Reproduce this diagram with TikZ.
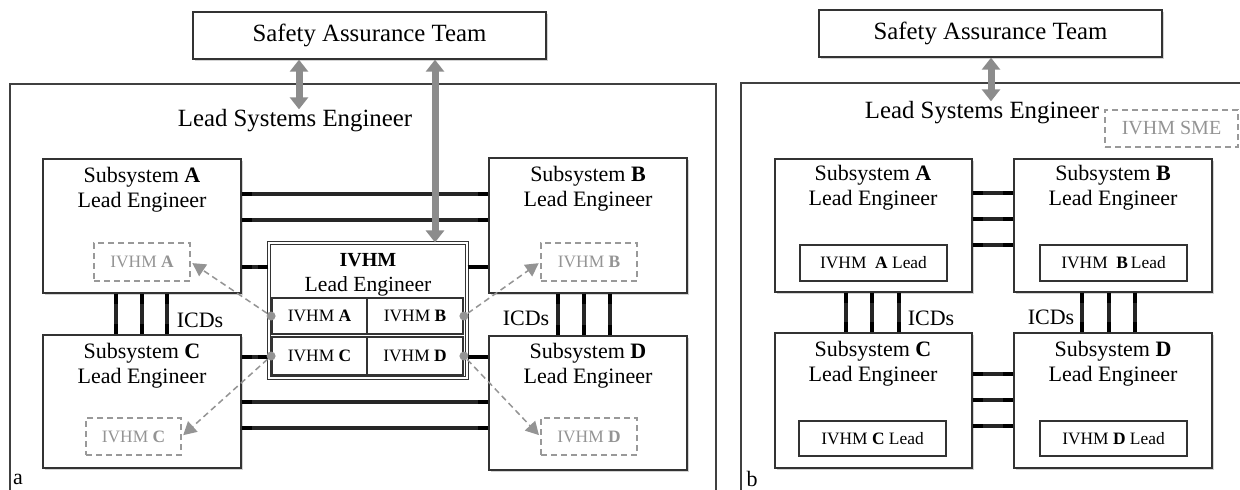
\documentclass[tikz,border=0pt]{standalone}
\usepackage{fontspec}
\setmainfont{Liberation Serif}
\usetikzlibrary{arrows.meta,fit,calc,shadows}
\newcommand{\fbig}{\fontsize{12.4}{14}\selectfont}
\newcommand{\fsub}{\fontsize{11}{12.6}\selectfont}
\newcommand{\fsm}{\fontsize{8.7}{10}\selectfont}
\newcommand{\fsme}{\fontsize{10}{11}\selectfont}
\newcommand{\mkbox}[8]{%
  \path (#2,#3) coordinate (#1-nw) (#4,#5) coordinate (#1-se);
  \node[fit=(#1-nw)(#1-se), inner sep=0pt, #6] (#1) {};
  \node[txt, #7] (#1-t) at (#1.center) {#8};}
\newcommand{\icdl}[2]{%
  \path (#1) coordinate (tmpa) (#2) coordinate (tmpb);
  \draw[icd] (tmpa) -- (tmpb);
  \draw[icdcap] (tmpa) -- ($(tmpa)!5pt!(tmpb)$);
  \draw[icdcap] (tmpb) -- ($(tmpb)!5pt!(tmpa)$);}
\tikzset{
  bx/.style={draw=black!80, line width=0.7pt, fill=white},
  shbox/.style={bx, drop shadow={shadow xshift=1pt, shadow yshift=-1pt, opacity=0.35, fill=black!50}},
  dbox/.style={draw=black!40, dash pattern=on 3pt off 2pt, line width=0.7pt, fill=white},
  gtext/.style={text=black!42},
  framebox/.style={draw=black!75, line width=0.6pt},
  txt/.style={inner sep=0pt, align=center},
  icd/.style={line width=1.7pt, black!85},
  icdcap/.style={line width=2.4pt, black},
  garrow/.style={draw=black!45, line width=3.5pt, {Triangle[width=9pt,length=6pt]}-{Triangle[width=9pt,length=6pt]}},
  darrow/.style={draw=black!42, dash pattern=on 3pt off 2pt, line width=0.75pt, -{Triangle[width=7pt,length=6.5pt]}, shorten >=1pt},
  gdot/.style={circle, fill=black!42, inner sep=0pt, minimum size=4.5pt},
}
\begin{document}
\begin{tikzpicture}[x=0.5pt,y=-0.5pt]
\useasboundingbox (0,0) rectangle (1240,489);
% ================= panel a =================
\path (10,84) coordinate (fa-nw) (716,520) coordinate (fa-se);
\node[fit=(fa-nw)(fa-se), inner sep=0pt, framebox] (fa) {};
\coordinate (ab1) at (0,194);
\coordinate (ab2) at (0,220);
\coordinate (h1) at (0,267);
\coordinate (h2) at (0,357);
\coordinate (cd1) at (0,402);
\coordinate (cd2) at (0,428);
\coordinate (v1) at (116,0);
\coordinate (v2) at (142,0);
\coordinate (v3) at (167,0);
\coordinate (v4) at (558,0);
\coordinate (v5) at (584,0);
\coordinate (v6) at (610,0);
\coordinate (g1) at (299,0);
\coordinate (g2) at (435,0);

\mkbox{SATa}{193}{12}{546}{59}{shbox}{font=\fbig}{Safety Assurance Team}
\node[txt, font=\fbig] (LSEa) at (295,121) {Lead Systems Engineer};

\path (43,159) coordinate (A-nw) (241,293) coordinate (A-se);
\node[fit=(A-nw)(A-se), inner sep=0pt, shbox] (A) {};
\path (489,158) coordinate (B-nw) (687,293) coordinate (B-se);
\node[fit=(B-nw)(B-se), inner sep=0pt, shbox] (B) {};
\path (43,335) coordinate (C-nw) (241,468) coordinate (C-se);
\node[fit=(C-nw)(C-se), inner sep=0pt, shbox] (C) {};
\path (489,336) coordinate (D-nw) (687,470) coordinate (D-se);
\node[fit=(D-nw)(D-se), inner sep=0pt, shbox] (D) {};
\node[txt, font=\fsub] (At) at (142,190) {Subsystem \textbf{A}\\Lead Engineer};
\node[txt, font=\fsub] (Bt) at (588,189) {Subsystem \textbf{B}\\Lead Engineer};
\node[txt, font=\fsub] (Ct) at (142,366) {Subsystem \textbf{C}\\Lead Engineer};
\node[txt, font=\fsub] (Dt) at (588,366) {Subsystem \textbf{D}\\Lead Engineer};

\path (269,243) coordinate (IV-nw) (467,378) coordinate (IV-se);
\node[fit=(IV-nw)(IV-se), inner sep=0pt, bx, double=white, double distance=0.9pt, line width=0.55pt, drop shadow={shadow xshift=1pt, shadow yshift=-1pt, opacity=0.35, fill=black!50}] (IV) {};
\node[txt, font=\fontsize{10}{11}\selectfont\bfseries] (IVt) at (368,260) {IVHM};
\node[txt, font=\fontsize{10.8}{12}\selectfont] (IVl) at (368,286) {Lead Engineer};
\mkbox{cA}{272}{298}{367}{334}{bx, line width=0.9pt}{font=\fsm}{IVHM \textbf{A}}
\mkbox{cB}{367}{298}{463}{334}{bx, line width=0.9pt}{font=\fsm}{IVHM \textbf{B}}
\mkbox{cC}{272}{337}{367}{375}{bx, line width=0.9pt}{font=\fsm}{IVHM \textbf{C}}
\mkbox{cD}{367}{337}{463}{375}{bx, line width=0.9pt}{font=\fsm}{IVHM \textbf{D}}

\mkbox{dA}{94}{243}{190}{281}{dbox}{font=\fsm, gtext}{IVHM \textbf{A}}
\mkbox{dB}{541}{243}{637}{281}{dbox}{font=\fsm, gtext}{IVHM \textbf{B}}
\mkbox{dC}{86}{418}{181}{455}{dbox}{font=\fsm, gtext}{IVHM \textbf{C}}
\mkbox{dD}{541}{418}{637}{455}{dbox}{font=\fsm, gtext}{IVHM \textbf{D}}

\icdl{A.east |- ab1}{B.west |- ab1}
\icdl{A.east |- ab2}{B.west |- ab2}
\icdl{A.east |- h1}{IV.west |- h1}
\icdl{IV.east |- h1}{B.west |- h1}
\icdl{C.east |- h2}{IV.west |- h2}
\icdl{IV.east |- h2}{D.west |- h2}
\icdl{C.east |- cd1}{D.west |- cd1}
\icdl{C.east |- cd2}{D.west |- cd2}
\icdl{A.south -| v1}{C.north -| v1}
\icdl{A.south -| v2}{C.north -| v2}
\icdl{A.south -| v3}{C.north -| v3}
\icdl{B.south -| v4}{D.north -| v4}
\icdl{B.south -| v5}{D.north -| v5}
\icdl{B.south -| v6}{D.north -| v6}
\node[txt, font=\fsub] (icdAC) at (200,320) {ICDs};
\node[txt, font=\fsub] (icdBD) at (526,318) {ICDs};

\node[gdot] (pA) at (cA.west) {};
\node[gdot] (pB) at (cB.east) {};
\node[gdot] (pC) at (cC.west) {};
\node[gdot] (pD) at (cD.east) {};
\draw[darrow] (pA) -- (dA.east);
\draw[darrow] (pB) -- (dB.west);
\draw[darrow] (pC) -- (dC.east);
\draw[darrow] (pD) -- (dD.west);

\draw[garrow] (SATa.south -| g1) -- (LSEa.north -| g1);
\draw[garrow] (SATa.south -| g2) -- (IV.north -| g2);
\node[txt, font=\fsub] (la) at (18,479) {a};

% ================= panel b =================
\path (741,83) coordinate (fb-nw) (1262,520) coordinate (fb-se);
\node[fit=(fb-nw)(fb-se), inner sep=0pt, framebox] (fb) {};
\coordinate (bab1) at (0,193);
\coordinate (bab2) at (0,219);
\coordinate (bab3) at (0,245);
\coordinate (bcd1) at (0,374);
\coordinate (bcd2) at (0,400);
\coordinate (bcd3) at (0,426);
\coordinate (bv1) at (846,0);
\coordinate (bv2) at (872,0);
\coordinate (bv3) at (899,0);
\coordinate (bv4) at (1082,0);
\coordinate (bv5) at (1109,0);
\coordinate (bv6) at (1135,0);
\coordinate (g3) at (991,0);

\mkbox{SATb}{819}{10}{1162}{57}{shbox}{font=\fbig}{Safety Assurance Team}
\node[txt, font=\fbig] (LSEb) at (982,113) {Lead Systems Engineer};
\mkbox{SME}{1105}{110}{1238}{147}{dbox}{font=\fsme, gtext}{IVHM SME}

\path (775,159) coordinate (Ab-nw) (972,292) coordinate (Ab-se);
\node[fit=(Ab-nw)(Ab-se), inner sep=0pt, shbox] (Ab) {};
\path (1014,159) coordinate (Bb-nw) (1212,292) coordinate (Bb-se);
\node[fit=(Bb-nw)(Bb-se), inner sep=0pt, shbox] (Bb) {};
\path (775,333) coordinate (Cb-nw) (972,468) coordinate (Cb-se);
\node[fit=(Cb-nw)(Cb-se), inner sep=0pt, shbox] (Cb) {};
\path (1014,333) coordinate (Db-nw) (1212,468) coordinate (Db-se);
\node[fit=(Db-nw)(Db-se), inner sep=0pt, shbox] (Db) {};
\node[txt, font=\fsub] (Abt) at (873,188) {Subsystem \textbf{A}\\Lead Engineer};
\node[txt, font=\fsub] (Bbt) at (1113,188) {Subsystem \textbf{B}\\Lead Engineer};
\node[txt, font=\fsub] (Cbt) at (873,364) {Subsystem \textbf{C}\\Lead Engineer};
\node[txt, font=\fsub] (Dbt) at (1113,364) {Subsystem \textbf{D}\\Lead Engineer};

\mkbox{LA}{800}{245}{947}{281}{bx}{font=\fsm}{IVHM\ \ \textbf{A} Lead}
\mkbox{LB}{1040}{245}{1187}{281}{bx}{font=\fsm}{IVHM\ \ \textbf{B}\,Lead}
\mkbox{LC}{799}{421}{946}{456}{bx}{font=\fsm}{IVHM \textbf{C} Lead}
\mkbox{LD}{1040}{421}{1187}{456}{bx}{font=\fsm}{IVHM \textbf{D} Lead}

\icdl{Ab.east |- bab1}{Bb.west |- bab1}
\icdl{Ab.east |- bab2}{Bb.west |- bab2}
\icdl{Ab.east |- bab3}{Bb.west |- bab3}
\icdl{Cb.east |- bcd1}{Db.west |- bcd1}
\icdl{Cb.east |- bcd2}{Db.west |- bcd2}
\icdl{Cb.east |- bcd3}{Db.west |- bcd3}
\icdl{Ab.south -| bv1}{Cb.north -| bv1}
\icdl{Ab.south -| bv2}{Cb.north -| bv2}
\icdl{Ab.south -| bv3}{Cb.north -| bv3}
\icdl{Bb.south -| bv4}{Db.north -| bv4}
\icdl{Bb.south -| bv5}{Db.north -| bv5}
\icdl{Bb.south -| bv6}{Db.north -| bv6}
\node[txt, font=\fsub] (icdACb) at (931,318) {ICDs};
\node[txt, font=\fsub] (icdBDb) at (1051,317) {ICDs};

\draw[garrow] (SATb.south -| g3) -- (LSEb.north -| g3);
\node[txt, font=\fsub] (lb) at (752,479) {b};
\end{tikzpicture}
\end{document}
